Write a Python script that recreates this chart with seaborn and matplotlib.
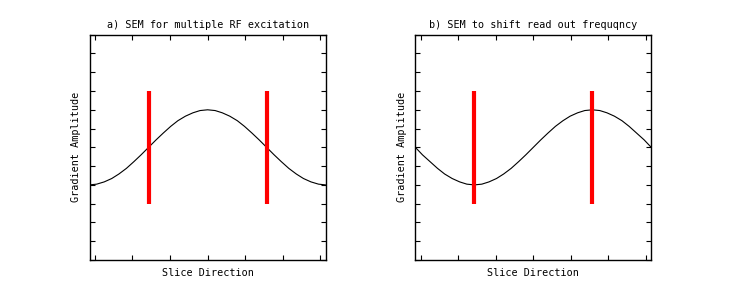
import numpy as np
import pandas as pd
import matplotlib
matplotlib.use("Agg")
import matplotlib.pyplot as plt
import seaborn as sns

# ---- data ----
slice_pos = [-3.14, -2.95, -2.75, -2.55, -2.36, -2.16, -1.96, -1.77, -1.57, -1.37, -1.18,
             -0.98, -0.79, -0.59, -0.39, -0.20, 0.00, 0.20, 0.39, 0.59, 0.79, 0.98,
             1.18, 1.37, 1.57, 1.77, 1.96, 2.16, 2.36, 2.55, 2.75, 2.95, 3.14]
grad_a = [-1.00, -0.98, -0.92, -0.83, -0.71, -0.56, -0.38, -0.20, 0.00, 0.20, 0.38,
          0.56, 0.71, 0.83, 0.92, 0.98, 1.00, 0.98, 0.92, 0.83, 0.71, 0.56,
          0.38, 0.20, 0.00, -0.20, -0.38, -0.56, -0.71, -0.83, -0.92, -0.98, -1.00]
grad_b = [0.00, -0.20, -0.38, -0.56, -0.71, -0.83, -0.92, -0.98, -1.00, -0.98, -0.92,
          -0.83, -0.71, -0.56, -0.38, -0.20, 0.00, 0.20, 0.38, 0.56, 0.71, 0.83,
          0.92, 0.98, 1.00, 0.98, 0.92, 0.83, 0.71, 0.56, 0.38, 0.20, 0.00]
marker_x = [-1.57, 1.57]
marker_lo = -1.5
marker_hi = 1.5
titles = ["a) SEM for multiple RF excitation", "b) SEM to shift read out frequqncy"]
xlabel = "Slice Direction"
ylabel = "Gradient Amplitude"

sns.set_style("ticks")
plt.rcParams['font.family'] = ['DejaVu Sans Mono']
plt.rcParams['font.size'] = 7.3
plt.rcParams['text.color'] = 'black'
plt.rcParams['axes.labelcolor'] = 'black'

fig = plt.figure(figsize=(7.41, 2.96), dpi=100)
W, H = 741, 296
boxes = [(89.5, 34.7, 325.7, 260.0), (415.3, 34.7, 651.3, 260.0)]

for (l, t, r, b), title, gy in zip(boxes, titles, [grad_a, grad_b]):
    ax = fig.add_axes([l / W, 1 - b / H, (r - l) / W, (b - t) / H])
    df = pd.DataFrame({"x": slice_pos, "y": gy})
    sns.lineplot(data=df, x="x", y="y", ax=ax, color="black", linewidth=0.8)
    ax.vlines(marker_x, marker_lo, marker_hi, colors="#ff0000", linewidth=3.0)
    ax.set_xlim(-np.pi, np.pi)
    ax.set_ylim(-3, 3)
    ax.set_xticks(np.arange(-3, 4, 1))
    ax.set_yticks(np.arange(-3, 3.01, 0.5))
    ax.tick_params(direction="in", length=3.5, width=0.8, top=True, right=True,
                   labelbottom=False, labelleft=False, color="black")
    for s in ax.spines.values():
        s.set_visible(True)
        s.set_linewidth(1.0)
        s.set_color("black")
    ax.set_title(title, fontsize=7.3, pad=5, color="black")
    ax.set_xlabel(xlabel, labelpad=6, color="black")
    ax.set_ylabel(ylabel, labelpad=6, color="black")

fig.savefig("out.png", dpi=100, facecolor="white")
